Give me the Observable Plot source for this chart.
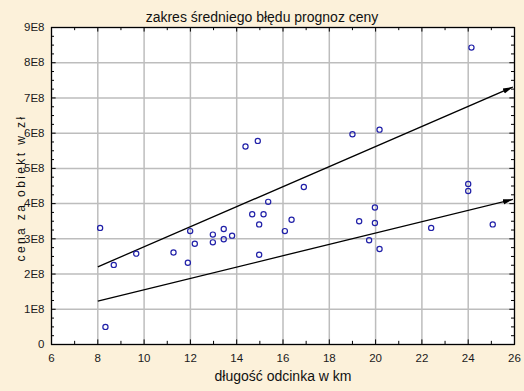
<!DOCTYPE html>
<html><head><meta charset="utf-8">
<script src="https://cdn.jsdelivr.net/npm/d3@7"></script>
<script src="https://cdn.jsdelivr.net/npm/@observablehq/plot@0.6"></script>
<style>html,body{margin:0;padding:0;background:#fcf1da;}</style>
</head><body><div id="chart"></div>
<script>
const title = "zakres średniego błędu prognoz ceny";
const xLabel = "długość odcinka w km";
const yLabel = "cena za obiekt w zł";

const lengthKm = [8.10, 8.33, 8.69, 9.66, 11.27, 11.89, 11.99, 12.19, 12.97, 12.97, 13.44, 13.44, 13.80, 14.38, 14.91, 14.67, 15.16, 14.97, 15.36, 14.97, 16.08, 16.37, 16.90, 19.00, 20.17, 19.29, 19.97, 19.97, 19.72, 20.17, 22.40, 24.00, 24.00, 24.14, 25.06];
const price = [3.31e8, 0.50e8, 2.26e8, 2.58e8, 2.61e8, 2.32e8, 3.22e8, 2.86e8, 3.12e8, 2.90e8, 3.28e8, 2.99e8, 3.09e8, 5.62e8, 5.78e8, 3.70e8, 3.70e8, 3.41e8, 4.05e8, 2.55e8, 3.22e8, 3.54e8, 4.47e8, 5.97e8, 6.10e8, 3.50e8, 3.89e8, 3.45e8, 2.96e8, 2.71e8, 3.31e8, 4.56e8, 4.36e8, 8.43e8, 3.41e8];

// error range arrows (upper and lower bound)
const arrowX1 = [8.0, 8.0];
const arrowY1 = [2.205e8, 1.233e8];
const arrowX2 = [25.93, 25.93];
const arrowY2 = [7.31e8, 4.12e8];

const xTicks = [6, 8, 10, 12, 14, 16, 18, 20, 22, 24, 26];
const xMinor = [7, 9, 11, 13, 15, 17, 19, 21, 23, 25];
const yTicks = [0, 1e8, 2e8, 3e8, 4e8, 5e8, 6e8, 7e8, 8e8, 9e8];
const yTickLabels = ["0", "1E8", "2E8", "3E8", "4E8", "5E8", "6E8", "7E8", "8E8", "9E8"];
const yMinor = d3.range(0, 9e8 + 1, 2.5e7).filter(v => v % 1e8 !== 0);

const points = lengthKm.map((x, i) => ({x, y: price[i]}));
const arrows = arrowX1.map((x1, i) => ({x1, y1: arrowY1[i], x2: arrowX2[i], y2: arrowY2[i]}));

const font = "'Liberation Sans', Arial, sans-serif";
const tickCol = "#000";

const svg = Plot.plot({
  width: 524, height: 391,
  marginLeft: 51, marginRight: 10, marginTop: 27, marginBottom: 47,
  style: {background: "#fcf1da", fontFamily: font, fontSize: "11.5px", color: "#1a1a1a"},
  x: {domain: [6, 26]},
  y: {domain: [0, 9e8]},
  marks: [
    Plot.frame({fill: "white", stroke: "none"}),
    Plot.ruleX(xTicks, {stroke: "#bdbdbd", strokeWidth: 1.5}),
    Plot.ruleY(yTicks, {stroke: "#bdbdbd", strokeWidth: 1.5}),
    // minor ticks inside frame
    Plot.ruleX(xMinor, {x: d => d, y1: 0, y2: 0.09e8, stroke: tickCol}),
    Plot.ruleX(xMinor, {x: d => d, y1: 9e8, y2: 8.91e8, stroke: tickCol}),
    Plot.ruleX(xTicks, {x: d => d, y1: 0, y2: 0.13e8, stroke: tickCol}),
    Plot.ruleX(xTicks, {x: d => d, y1: 9e8, y2: 8.87e8, stroke: tickCol}),
    Plot.ruleY(yMinor, {y: d => d, x1: 6, x2: 6.13, stroke: tickCol}),
    Plot.ruleY(yMinor, {y: d => d, x1: 26, x2: 25.87, stroke: tickCol}),
    Plot.ruleY(yTicks, {y: d => d, x1: 6, x2: 6.2, stroke: tickCol}),
    Plot.ruleY(yTicks, {y: d => d, x1: 26, x2: 25.8, stroke: tickCol}),
    Plot.frame({stroke: "black", strokeWidth: 1.2}),
    Plot.axisX(xTicks, {tickSize: 0, tickPadding: 9, fontSize: 11.5, label: null}),
    Plot.axisY(yTicks, {tickSize: 0, tickPadding: 7, fontSize: 11.5, label: null,
      tickFormat: d => yTickLabels[yTicks.indexOf(d)]}),
    Plot.link(arrows, {x1: "x1", y1: "y1", x2: "x2", y2: "y2", stroke: "black", strokeWidth: 1.3, markerEnd: "arrow"}),
    Plot.dot(points, {x: "x", y: "y", r: 2.6, stroke: "#2020a8", strokeWidth: 1.2, fill: "none"}),
    Plot.text([title], {frameAnchor: "top", dx: -21, dy: -15, fontSize: 14, fill: "#111"}),
    Plot.text([xLabel], {frameAnchor: "bottom", dy: 36, fontSize: 14, fill: "#111"})
  ]
});

// filled arrow heads
svg.querySelectorAll("marker").forEach(m => {
  m.setAttribute("viewBox", "-10 -4 10 8");
  m.setAttribute("markerUnits", "userSpaceOnUse");
  m.setAttribute("markerWidth", 10);
  m.setAttribute("markerHeight", 8);
  m.innerHTML = "";
  const p = document.createElementNS("http://www.w3.org/2000/svg", "path");
  p.setAttribute("d", "M-10,-2.7L0,0L-10,2.7Z");
  p.setAttribute("fill", "black");
  p.setAttribute("stroke", "none");
  m.appendChild(p);
});

// rotated y-axis label
const yl = document.createElementNS("http://www.w3.org/2000/svg", "text");
yl.textContent = yLabel;
yl.setAttribute("transform", "translate(25,188) rotate(-90)");
yl.setAttribute("text-anchor", "middle");
yl.setAttribute("fill", "#111");
yl.setAttribute("font-size", "12");
yl.setAttribute("font-family", font);
yl.style.letterSpacing = "2.4px";
svg.appendChild(yl);

document.getElementById("chart").appendChild(svg);
</script>
</body></html>
